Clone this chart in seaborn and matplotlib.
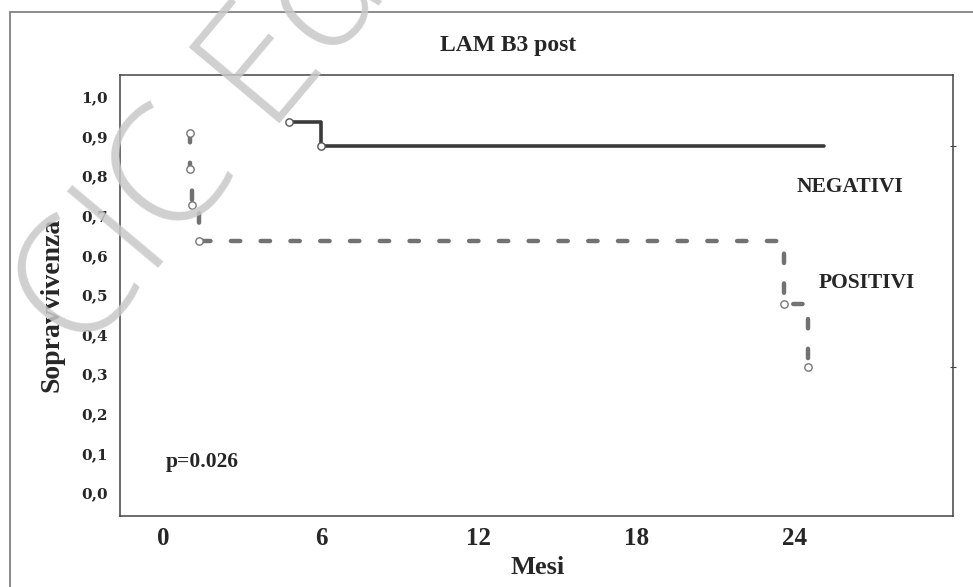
import numpy as np
import pandas as pd
import seaborn as sns
import matplotlib.pyplot as plt
from matplotlib.patches import Rectangle

# Kaplan-Meier steps (months, survival)
neg_time = [4.8, 6.0, 25.1]
neg_surv = [0.9375, 0.875, 0.875]
neg_cens_time = [4.8, 6.0]
neg_cens_surv = [0.9375, 0.875]

pos_time = [1.03, 1.03, 1.10, 1.37, 23.6, 24.5]
pos_surv = [0.909, 0.818, 0.727, 0.636, 0.477, 0.318]

x_ticks = [0, 6, 12, 18, 24]
y_ticks = [0.0, 0.1, 0.2, 0.3, 0.4, 0.5, 0.6, 0.7, 0.8, 0.9, 1.0]
y_labels = ['0,0', '0,1', '0,2', '0,3', '0,4', '0,5', '0,6', '0,7', '0,8', '0,9', '1,0']

sns.set_style('white')
serif = ['Liberation Serif', 'DejaVu Serif']

fig = plt.figure(figsize=(9.73, 5.87), dpi=100)
ax = fig.add_axes([0.1233, 0.121, 0.856, 0.751])

neg = pd.DataFrame({'Mesi': neg_time, 'S': neg_surv})
pos = pd.DataFrame({'Mesi': pos_time, 'S': pos_surv})

sns.lineplot(data=neg, x='Mesi', y='S', ax=ax, estimator=None, sort=False,
             drawstyle='steps-post', color='#3a3a3a', linewidth=2.6)
sns.lineplot(data=pos, x='Mesi', y='S', ax=ax, estimator=None, sort=False,
             drawstyle='steps-post', color='#727272', linewidth=3.2)
ax.lines[-1].set_linestyle((0, (2.1, 4.6)))
ax.lines[-1].set_dash_capstyle('round')

sns.scatterplot(x=neg_cens_time, y=neg_cens_surv, ax=ax, marker='o', s=28,
                facecolor='white', edgecolor='#555555', linewidth=1, zorder=4)
sns.scatterplot(x=pos_time, y=pos_surv, ax=ax, marker='o', s=28,
                facecolor='white', edgecolor='#777777', linewidth=1, zorder=4)

ax.set_xlim(-1.63, 30)
ax.set_ylim(-0.058, 1.055)
ax.set_xticks(x_ticks)
ax.set_xticklabels([str(t) for t in x_ticks], fontfamily=serif,
                   fontweight='bold', fontsize=18)
ax.set_yticks(y_ticks)
ax.set_yticklabels(y_labels, fontfamily='DejaVu Serif', fontweight='bold',
                   fontsize=11)
ax.tick_params(axis='x', length=0, pad=8)
ax.tick_params(axis='y', length=0, pad=8.5)
ax.set_xlabel('')
ax.set_ylabel('')
for s in ax.spines.values():
    s.set_color('#444444')
    s.set_linewidth(1.1)

# small end marks on the right border
ax2 = ax.twinx()
ax2.set_ylim(ax.get_ylim())
ax2.set_yticks([neg_surv[-1], pos_surv[-1]])
ax2.tick_params(right=True, length=4, direction='inout', labelright=False,
                color='#444444')
ax2.spines[:].set_visible(False)

ax.text(24.08, 0.773, 'NEGATIVI', fontfamily=serif, fontweight='bold',
        fontsize=15.5, va='center', ha='left')
ax.text(24.9, 0.529, 'POSITIVI', fontfamily=serif, fontweight='bold',
        fontsize=15.5, va='center', ha='left')
ax.text(0.11, 0.078, 'p=0.026', fontfamily=serif, fontweight='bold',
        fontsize=15.5, va='center', ha='left')

fig.text(0.522, 0.923, 'LAM B3 post', fontfamily=serif, fontweight='bold',
         fontsize=17, ha='center', va='center')
fig.text(0.553, 0.033, 'Mesi', fontfamily=serif, fontweight='bold',
         fontsize=19, ha='center', va='center')
fig.text(0.053, 0.48, 'Sopravvivenza', fontfamily=serif, fontweight='bold',
         fontsize=20, ha='center', va='center', rotation=90)

# outer frame (cut by the picture edge on the right and bottom)
fig.patches.append(Rectangle((0.0103, -0.5), 2, 1.4796, fill=False,
                             edgecolor='#777777', linewidth=1.2,
                             transform=fig.transFigure))

# watermark
fig.text(0.084, 0.387, 'CIC Edizioni Internazionali',
         fontfamily=['Open Sans', 'Lato', 'DejaVu Sans'], fontweight=300,
         fontsize=120, color='#c8c8c8', alpha=0.85, rotation=50,
         rotation_mode='anchor', ha='left', va='baseline', zorder=10)

fig.savefig('out.png', dpi=100)
